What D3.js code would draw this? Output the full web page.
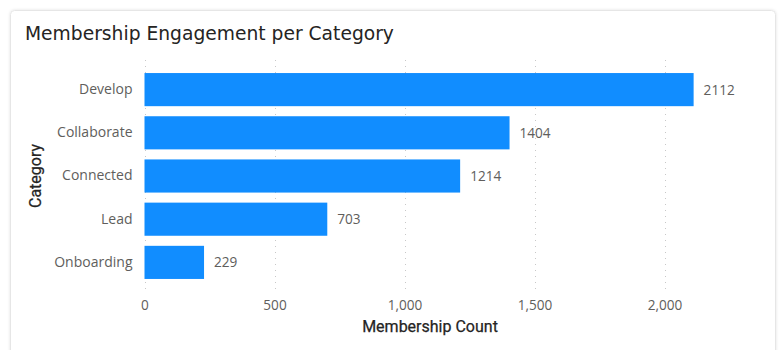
<!DOCTYPE html>
<html>
<head>
<meta charset="utf-8">
<script src="https://cdn.jsdelivr.net/npm/d3@7"></script>
<style>
  body { margin: 0; background: #fff; }
  svg { display: block; }
</style>
</head>
<body>
<svg id="svg" width="783" height="350"></svg>
<script>
// DATA
const categories = ["Develop", "Collaborate", "Connected", "Lead", "Onboarding"];
const counts = [2112, 1404, 1214, 703, 229];
const ticks = [0, 500, 1000, 1500, 2000];

// LAYOUT
const margin = { left: 144.5, right: 776, top: 67, bottom: 284 };
const barColor = "#118DFF";
const labelFont = "'Open Sans', 'Noto Sans', sans-serif";
const titleFont = "'DejaVu Sans', sans-serif";
const axisTitleFont = "Roboto, 'DejaVu Sans Condensed', sans-serif";

const svg = d3.select("#svg");

// card
const defs = svg.append("defs");
const shadow = defs.append("filter").attr("id", "shadow")
  .attr("x", "-5%").attr("y", "-5%").attr("width", "110%").attr("height", "120%");
shadow.append("feDropShadow")
  .attr("dx", 0).attr("dy", 0).attr("stdDeviation", 1.5)
  .attr("flood-color", "#000").attr("flood-opacity", 0.12);

svg.append("rect")
  .attr("x", 10.5).attr("y", 10.5)
  .attr("width", 765).attr("height", 360)
  .attr("rx", 4)
  .attr("fill", "#fff")
  .attr("stroke", "#e6e6e6")
  .attr("filter", "url(#shadow)");

// title
svg.append("text")
  .attr("x", 25).attr("y", 40)
  .attr("font-family", titleFont)
  .attr("font-size", 18.7)
  .attr("fill", "#252423")
  .text("Membership Engagement per Category");

const x = d3.scaleLinear().domain([0, 500]).range([margin.left, margin.left + 130]);
const y = d3.scaleBand()
  .domain(categories)
  .range([margin.top, margin.bottom + 1])
  .paddingInner(0.233)
  .paddingOuter(0.14);

// gridlines
svg.append("g")
  .selectAll("line")
  .data(ticks)
  .join("line")
  .attr("x1", d => Math.round(x(d)) + 0.5)
  .attr("x2", d => Math.round(x(d)) + 0.5)
  .attr("y1", 60).attr("y2", 292)
  .attr("stroke", "#c8c8c8")
  .attr("stroke-width", 1)
  .attr("stroke-dasharray", "1,5");

// bars
svg.append("g")
  .selectAll("rect")
  .data(counts)
  .join("rect")
  .attr("x", x(0))
  .attr("y", (d, i) => y(categories[i]))
  .attr("width", d => x(d) - x(0))
  .attr("height", y.bandwidth())
  .attr("fill", barColor);

// value labels
svg.append("g")
  .selectAll("text")
  .data(counts)
  .join("text")
  .attr("x", d => x(d) + 10)
  .attr("y", (d, i) => y(categories[i]) + y.bandwidth() / 2)
  .attr("dy", "0.36em")
  .attr("font-family", labelFont)
  .attr("font-size", 13.6)
  .attr("fill", "#605E5C")
  .text(d => d);

// y axis
const yAxis = svg.append("g")
  .attr("transform", `translate(${margin.left - 12},0)`)
  .call(d3.axisLeft(y).tickSize(0).tickPadding(0));
yAxis.select(".domain").remove();
yAxis.selectAll("text")
  .attr("font-family", labelFont)
  .attr("font-size", 14)
  .attr("fill", "#605E5C");

// x axis
const xAxis = svg.append("g")
  .attr("transform", `translate(0,${300})`)
  .call(d3.axisBottom(x).tickValues(ticks).tickSize(0).tickPadding(0).tickFormat(d3.format(",")));
xAxis.select(".domain").remove();
xAxis.selectAll("text")
  .attr("dy", "0.72em")
  .attr("font-family", labelFont)
  .attr("font-size", 13.6)
  .attr("fill", "#605E5C");

// axis titles
svg.append("text")
  .attr("x", 430).attr("y", 332)
  .attr("text-anchor", "middle")
  .attr("font-family", axisTitleFont)
  .attr("font-size", 16)
  .attr("fill", "#252423")
  .attr("stroke", "#252423")
  .attr("stroke-width", 0.25)
  .text("Membership Count");

svg.append("text")
  .attr("transform", "translate(41,176) rotate(-90)")
  .attr("text-anchor", "middle")
  .attr("font-family", axisTitleFont)
  .attr("font-size", 16)
  .attr("fill", "#252423")
  .attr("stroke", "#252423")
  .attr("stroke-width", 0.25)
  .text("Category");
</script>
</body>
</html>
